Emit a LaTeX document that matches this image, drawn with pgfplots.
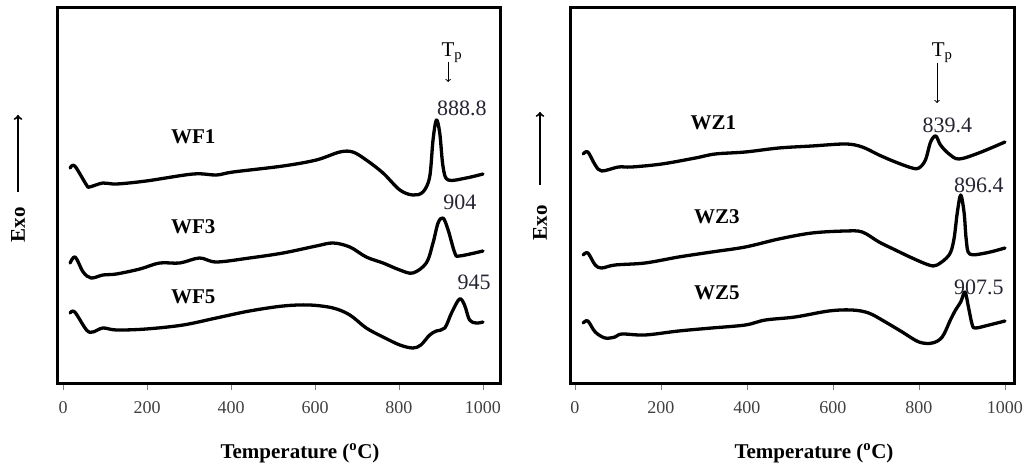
\documentclass[border=0pt]{standalone}
\usepackage{fontspec}
\setmainfont{Liberation Serif}
\usepackage{pgfplots}
\pgfplotsset{compat=1.18}
\definecolor{numcol}{rgb}{0.14,0.14,0.2}
\definecolor{tickcol}{rgb}{0.25,0.25,0.25}
\pgfplotsset{
  dsc/.style={
    scale only axis, width=443pt, height=375pt,
    ymin=0, ymax=375, ytick=\empty,
    axis line style={line width=3pt},
    xtick={0,200,400,600,800,1000},
    xtick pos=bottom,
    xtick align=outside,
    major tick length=7pt,
    tick style={gray, line width=0.8pt},
    xticklabel style={font=\fontsize{18}{18}\selectfont, text=tickcol, yshift=-8pt},
    /pgf/number format/assume math mode=true,
    /pgf/number format/1000 sep={},
    anchor=south west,
    clip=false,
  },
  curve/.style={black, line width=3.3pt, smooth, tension=0.55, line join=round, line cap=round},
}
\newcommand{\lab}{\fontsize{21}{21}\selectfont\bfseries}
\newcommand{\num}{\fontsize{22}{22}\selectfont\color{numcol}}
\begin{document}
\begin{tikzpicture}[x=1pt,y=1pt]
\useasboundingbox (0,0) rectangle (1024,466);
% left panel
\begin{axis}[dsc, at={(57pt,83pt)}, xmin=-14.3, xmax=1040.5]
\addplot[curve] coordinates {(17,215) (28,217) (56,198) (63,196) (95,200) (127,199) (198,202) (310,209) (365,208) (405,211) (524,217) (603,223) (659,231) (690,231) (722,223) (762,210) (802,193) (833,188) (857,191) (873,206) (881,243) (889,263) (897,250) (905,216) (917,203) (960,205) (1000,209)};
\addplot[curve] coordinates {(17,120) (29,126) (48,111) (67,105) (95,108) (127,109) (183,114) (230,120) (278,120) (325,125) (365,121) (444,125) (524,130) (603,137) (643,140) (683,136) (722,126) (762,120) (802,113) (833,110) (865,120) (881,140) (893,160) (905,165) (917,153) (933,130) (944,127) (1000,132)};
\addplot[curve] coordinates {(17,70) (28,71) (56,53) (71,51) (95,55) (127,53) (198,54) (286,58) (365,65) (444,72) (524,77) (587,78) (643,75) (683,68) (722,55) (762,46) (802,38) (833,35) (852,38) (873,48) (889,52) (909,55) (925,70) (944,84) (956,78) (968,63) (984,60) (1000,61)};
\node at (axis cs:310,246) {\lab WF1};
\node at (axis cs:310,156) {\lab WF3};
\node at (axis cs:310,86) {\lab WF5};
\node at (axis cs:950,275) {\num 888.8};
\node at (axis cs:945,181) {\num 904};
\node at (axis cs:979,101) {\num 945};
\node at (axis cs:926,330) {\fontsize{21}{21}\selectfont T\textsubscript{p}};
\draw[->, line width=1pt, >=to] (axis cs:917,321) -- (axis cs:917,301);
\end{axis}
% right panel
\begin{axis}[dsc, at={(570pt,83pt)}, width=444pt, xmin=-11.6, xmax=1021]
\addplot[curve] coordinates {(19,229) (30,231) (47,218) (62,212) (101,216) (132,216) (202,219) (280,225) (326,229) (396,231) (474,235) (551,237) (629,239) (668,236) (707,228) (745,221) (784,215) (800,215) (815,223) (827,241) (839,247) (850,238) (870,229) (893,224) (939,230) (1000,241)};
\addplot[curve] coordinates {(19,128) (30,130) (47,118) (62,115) (93,118) (163,120) (241,126) (318,131) (396,136) (474,144) (551,150) (629,152) (668,151) (707,141) (745,133) (784,125) (823,118) (842,118) (870,128) (881,143) (889,170) (897,188) (905,170) (910,143) (918,129) (955,130) (1000,135)};
\addplot[curve] coordinates {(19,60) (30,62) (47,51) (70,45) (93,46) (109,49) (163,48) (241,52) (318,55) (396,58) (443,63) (512,66) (590,72) (644,73) (683,70) (722,61) (761,51) (800,41) (831,40) (854,46) (873,63) (885,73) (897,81) (907,91) (915,76) (924,58) (932,55) (963,58) (1000,62)};
\node at (axis cs:322,260) {\lab WZ1};
\node at (axis cs:330,166) {\lab WZ3};
\node at (axis cs:330,90) {\lab WZ5};
\node at (axis cs:866,258) {\num 839.4};
\node at (axis cs:939,198) {\num 896.4};
\node at (axis cs:939,96) {\num 907.5};
\node at (axis cs:854,330) {\fontsize{21}{21}\selectfont T\textsubscript{p}};
\draw[->, line width=1pt, >=to] (axis cs:842,320) -- (axis cs:842,280);
\end{axis}
% y labels
\draw[->, line width=2pt, >=to] (18,274) -- (18,351);
\node[rotate=90] at (18,241) {\lab Exo};
\draw[->, line width=2pt, >=to] (540,281) -- (540,354);
\node[rotate=90] at (540,243) {\lab Exo};
% x labels
\node at (300,13) {\lab Temperature (\textsuperscript{o}C)};
\node at (814,13) {\lab Temperature (\textsuperscript{o}C)};
\end{tikzpicture}
\end{document}
